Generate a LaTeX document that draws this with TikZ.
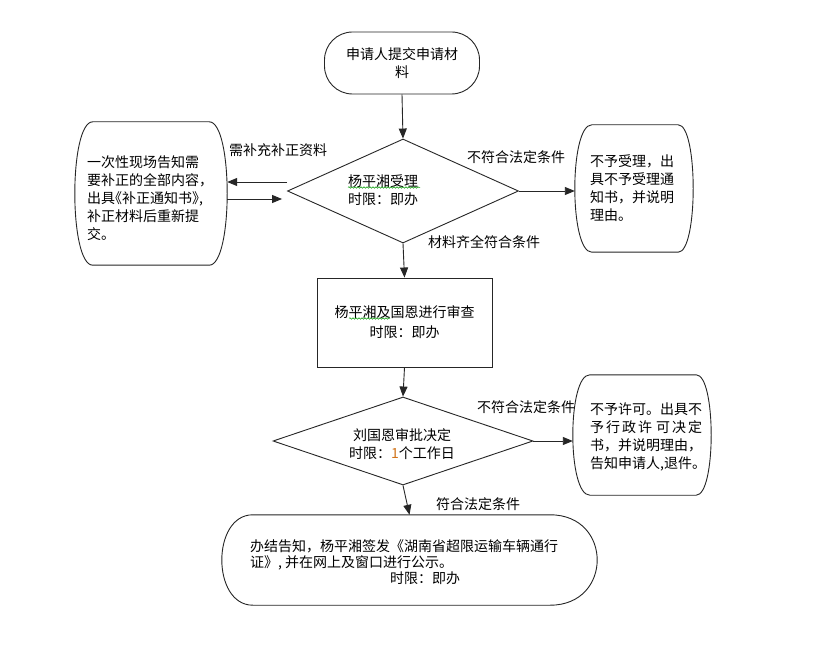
\documentclass[tikz,border=0pt]{standalone}
\usepackage{fontspec}
\setmainfont{Noto Sans CJK SC}
\newfontfamily\cjkh[RawFeature=+halt]{Noto Sans CJK SC}
\usetikzlibrary{shapes.geometric,arrows.meta,decorations.pathmorphing}
\definecolor{numcol}{rgb}{0.82,0.45,0.10}
\tikzset{
  line/.style={draw=black!85, line width=0.9pt},
  arr/.style={draw=black!85, line width=0.9pt, -{Triangle[length=10pt,width=8pt]}},
  txt/.style={font=\fontsize{14}{18}\selectfont, inner sep=0pt},
  area/.style={inner sep=0pt, draw=none},
  wavy/.style={draw=green!60!black, line width=0.5pt, decorate, decoration={snake, amplitude=0.8pt, segment length=3pt}}
}
\newcommand\bulgebox[3]{%
  \draw[line] ([xshift=#2]#1.north west) -- ([xshift=-#3]#1.north east)
    .. controls ([xshift=#3/3]#1.north east) and ([xshift=#3/3]#1.south east) .. ([xshift=-#3]#1.south east)
    -- ([xshift=#2]#1.south west)
    .. controls ([xshift=-#2/3]#1.south west) and ([xshift=-#2/3]#1.north west) .. cycle;}
\begin{document}
\begin{tikzpicture}[x=1pt,y=-1pt]
\fill[white] (0,0) rectangle (828,655);
\useasboundingbox (0,0) rectangle (828,655);

% start
\node[line, rounded corners=28pt, minimum width=155pt, minimum height=62pt, txt, align=center] (t0) at (402,63) {申请人提交申请材\\料};

% decision 1
\node[diamond, line, minimum width=231pt, minimum height=104pt, inner sep=0pt] (d1) at (403,191) {};
\node[txt, align=left, anchor=west] (d1t) at (348,190) {杨平湘受理\\时限：即办};
\draw[wavy] (348,187.5) -- (420,187.5);

% left box
\node[area, minimum width=152pt, minimum height=143pt] (lb) at (151,193.5) {};
\bulgebox{lb}{18pt}{18pt}
\node[txt, align=left, anchor=west] (lbt) at (87,198) {一次性现场告知需\\要补正的全部内容，\\出具{\cjkh《}补正通知书{\cjkh》},\\补正材料后重新提\\交。};

% right box 1
\node[area, minimum width=118pt, minimum height=127pt] (rb1) at (634,188.5) {};
\bulgebox{rb1}{17pt}{15pt}
\node[txt, align=left, anchor=west] (rb1t) at (590,188) {不予受理，出\\具不予受理通\\知书，并说明\\理由。};

% review box
\node[line, minimum width=175pt, minimum height=89pt, txt, align=center, font=\fontsize{14}{20}\selectfont] (r2) at (404.5,322.5) {杨平湘及国恩进行审查\\时限：即办};
\draw[wavy] (349,318.5) -- (390,318.5);

% decision 2
\node[diamond, line, minimum width=260pt, minimum height=88pt, inner sep=0pt] (d2) at (403,441) {};
\node[txt, align=center] (d2t) at (402,444) {刘国恩审批决定\\时限：\textcolor{numcol}{1}个工作日};

% right box 2
\node[area, minimum width=138pt, minimum height=120pt] (rb2) at (642,435) {};
\bulgebox{rb2}{17pt}{15pt}
\node[txt, align=left, anchor=west] (rb2t) at (590,436.5) {不予许可。出具不\\予\hspace{2pt}行\hspace{2pt}政\hspace{2pt}许\hspace{4pt}可\hspace{2pt}决\hspace{2pt}定\\书，并说明理由，\\告知申请人,退件。};

% final box
\node[area, minimum width=375pt, minimum height=90pt] (bb) at (409.5,560) {};
\bulgebox{bb}{31pt}{47pt}
\node[txt, align=left, anchor=west, font=\fontsize{14}{16}\selectfont] (bbt) at (250,562.5) {办结告知，杨平湘签发《湖南省超限运输车辆通行\\证》, 并在网上及窗口进行公示。\\\hspace{140pt}时限：即办};

% connectors
\draw[arr] (t0.south) -- (d1.north);
\draw[arr] ([yshift=9pt]d1.west) -- ([yshift=9pt]d1.west -| lb.east);
\draw[arr] ([yshift=-8pt]d1.west -| lb.east) -- ([yshift=-8pt,xshift=-5pt]d1.west);
\draw[arr] (d1.east) -- (d1.east -| rb1.west);
\draw[arr] (d1.south) -- (r2.north);
\draw[arr] (r2.south) -- (d2.north);
\draw[arr] (d2.east) -- (d2.east -| rb2.west);
\draw[arr] (d2.south) -- (bb.north);

% labels
\node[txt] (l1) at (278,150) {需补充补正资料};
\node[txt] (l2) at (516,157) {不符合法定条件};
\node[txt] (l3) at (484,242) {材料齐全符合条件};
\node[txt] (l4) at (526,407) {不符合法定条件};
\node[txt] (l5) at (478,504) {符合法定条件};
\end{tikzpicture}
\end{document}
